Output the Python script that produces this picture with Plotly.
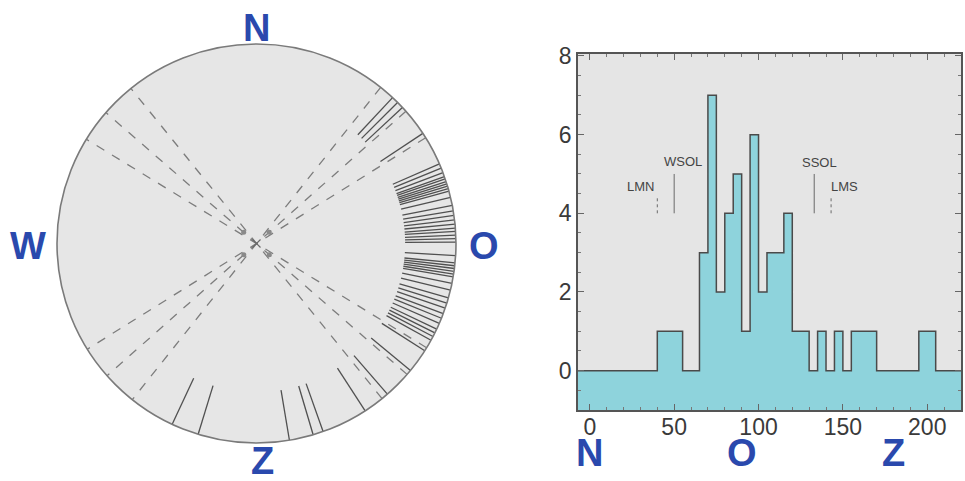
import plotly.graph_objects as go

# Bearings (degrees from north, clockwise) of the measured alignments
bearings = [43, 45, 47, 56.5,
            66.5, 67.8, 69.2,
            70.4, 71.1, 71.9, 72.6, 73.3, 74.0, 74.8,
            76.6, 79.0,
            80.6, 81.9, 83.2, 84.4,
            85.6, 86.5, 87.6, 88.6, 89.6,
            93.5,
            95.6, 96.4, 97.2, 98.0, 98.8, 99.6,
            101.5, 103.5,
            105.8, 107.4, 108.9,
            110.6, 112.0, 113.6,
            115.4, 116.6, 117.8, 119.0,
            122.5, 129.5,
            139, 147,
            160.5, 163.5, 170.5,
            197, 205]

# Astronomical reference directions (dashed diameters)
reference_bearings = [38.5, 48.5, 58, 121.5, 131, 141]

# Histogram: 5-degree bins
bin_left = list(range(-10, 220, 5))
counts = [0, 0,                      # -10 .. 0
          0, 0, 0, 0, 0, 0, 0, 0,    # 0 .. 40
          1, 1, 1,                   # 40 .. 55
          0, 0,                      # 55 .. 65
          3, 7, 2, 4, 5, 1, 6, 2, 3, 3, 4,   # 65 .. 120
          1, 1,                      # 120 .. 130
          0, 1, 0, 1, 0,             # 130 .. 155
          1, 1, 1,                   # 155 .. 170
          0, 0, 0, 0, 0,             # 170 .. 195
          1, 1,                      # 195 .. 205
          0, 0, 0]                   # 205 .. 220

# Event markers on the histogram
event_names = ["LMN", "WSOL", "SSOL", "LMS"]
event_az = [40, 50, 133, 143]
event_top = [4.4, 5.0, 5.0, 4.4]
event_dash = ["dot", "solid", "solid", "dot"]
event_label_x = [30, 55, 136, 151]
event_label_y = [4.68, 5.32, 5.3, 4.67]

compass = ["N", "W", "O", "Z"]
hist_compass_x = [0, 90, 180]
hist_compass = ["N", "O", "Z"]

W, H = 965, 481
BLUE = "#2a49ad"
R_IN = 0.745

fig = go.Figure()

# --- rose diagram -------------------------------------------------------
for b in reference_bearings:
    fig.add_trace(go.Scatterpolar(
        r=[1, 0, 1], theta=[b, b, b + 180], mode="lines",
        line=dict(color="#7d7d7d", width=1.3, dash="dash"),
        hoverinfo="skip", showlegend=False, subplot="polar"))

r_vals, t_vals = [], []
for b in bearings:
    r_vals += [R_IN, 1, None]
    t_vals += [b, b, None]
fig.add_trace(go.Scatterpolar(
    r=r_vals, theta=t_vals, mode="lines",
    line=dict(color="#505050", width=1.3),
    hoverinfo="skip", showlegend=False, subplot="polar"))

# small marks around the centre
fig.add_trace(go.Scatterpolar(
    r=[0.085, 0.085, 0.085, 0.085], theta=[48.5, 131, 228.5, 311],
    mode="markers", marker=dict(color="#8a8a8a", size=5),
    hoverinfo="skip", showlegend=False, subplot="polar"))
fig.add_trace(go.Scatterpolar(
    r=[0], theta=[0], mode="markers",
    marker=dict(symbol="x-thin", size=8, line=dict(color="#6a6a6a", width=1.2)),
    hoverinfo="skip", showlegend=False, subplot="polar"))

# --- histogram ----------------------------------------------------------
x_step = bin_left + [bin_left[-1] + 5]
y_step = counts + [counts[-1]]
fig.add_trace(go.Scatter(
    x=[x_step[0], x_step[-1]], y=[-1, -1], mode="lines",
    line=dict(width=0, color="rgba(0,0,0,0)"),
    hoverinfo="skip", showlegend=False, xaxis="x", yaxis="y"))
fig.add_trace(go.Scatter(
    x=x_step, y=y_step, mode="lines", line_shape="hv",
    line=dict(color="#4a4a4a", width=1.5),
    fill="tonexty", fillcolor="#8ed3dc",
    hoverinfo="skip", showlegend=False, xaxis="x", yaxis="y"))

for az, top, dash in zip(event_az, event_top, event_dash):
    fig.add_trace(go.Scatter(
        x=[az, az], y=[4.0, top], mode="lines",
        line=dict(color="#6a6a6a", width=1, dash=dash),
        hoverinfo="skip", showlegend=False, xaxis="x", yaxis="y"))

annotations = []
for name, lx, ly in zip(event_names, event_label_x, event_label_y):
    annotations.append(dict(x=lx, y=ly, xref="x", yref="y", text=name,
                            showarrow=False, xanchor="center", yanchor="middle",
                            font=dict(family="Liberation Sans", size=13,
                                      color="#444")))

for name, hx in zip(hist_compass, hist_compass_x):
    annotations.append(dict(x=hx, y=1 - 453 / H, xref="x", yref="paper",
                            text=name, showarrow=False,
                            xanchor="center", yanchor="middle",
                            font=dict(family="Liberation Sans", size=38,
                                      weight="bold", color=BLUE)))

compass_pos = [(256, 28), (28, 246), (484, 246), (262, 461)]
for name, (px, py) in zip(compass, compass_pos):
    annotations.append(dict(x=px / W, y=1 - py / H, xref="paper", yref="paper",
                            text=name, showarrow=False,
                            xanchor="center", yanchor="middle",
                            font=dict(family="Liberation Sans", size=38,
                                      weight="bold", color=BLUE)))

axis_common = dict(showgrid=False, zeroline=False, showline=True,
                   linecolor="#555", linewidth=1.5, mirror="ticks",
                   ticks="inside", ticklen=6, tickcolor="#666",
                   automargin=False,
                   tickfont=dict(family="Liberation Sans", size=23,
                                 color="#3a3a3a"))

fig.update_layout(
    width=W, height=H,
    margin=dict(l=0, r=0, t=0, b=0, autoexpand=False),
    paper_bgcolor="white",
    plot_bgcolor="#e5e5e5",
    showlegend=False,
    polar=dict(
        domain=dict(x=[57 / W, 456 / W], y=[1 - 443 / H, 1 - 44 / H]),
        bgcolor="#e6e6e6",
        radialaxis=dict(visible=False, range=[0, 1]),
        angularaxis=dict(direction="clockwise", rotation=90,
                         showgrid=False, showticklabels=False, ticks="",
                         showline=True, linecolor="#7a7a7a", linewidth=1.6),
    ),
    xaxis=dict(domain=[578 / W, 961 / W], range=[-7, 220],
               tickvals=[0, 50, 100, 150, 200], ticklabelstandoff=-4,
               minor=dict(dtick=10, ticks="inside", ticklen=3,
                          tickcolor="#777"),
               **axis_common),
    yaxis=dict(domain=[1 - 410 / H, 1 - 54 / H], range=[-1, 8.05],
               tickvals=[0, 2, 4, 6, 8],
               minor=dict(dtick=0.5, ticks="inside", ticklen=3,
                          tickcolor="#777"),
               **axis_common),
    annotations=annotations,
)

fig.write_html("out.html")
